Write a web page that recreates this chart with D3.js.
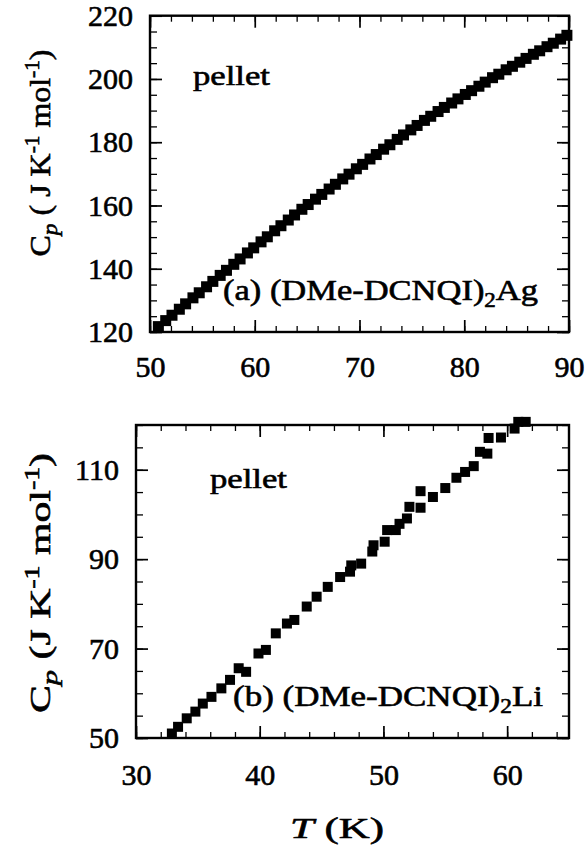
<!DOCTYPE html>
<html>
<head>
<meta charset="utf-8">
<script src="https://cdn.jsdelivr.net/npm/d3@7"></script>
<style>
  body { margin: 0; background: #fff; }
  svg { display: block; }
  text { font-family: "Liberation Serif", "Times New Roman", serif; fill: #000; stroke: #000; stroke-width: 0.6px; }
</style>
</head>
<body>
<svg id="chart" width="587" height="858"></svg>
<script>
// panel (a): (DMe-DCNQI)2Ag pellet
var agT = [50.8, 51.5, 52.1, 52.8, 53.4, 54.1, 54.7, 55.4, 56.0, 56.7, 57.3, 58.0, 58.6, 59.3, 59.9,
  60.6, 61.2, 61.9, 62.5, 63.2, 63.8, 64.5, 65.1, 65.8, 66.4, 67.1, 67.7, 68.4, 69.0, 69.7,
  70.3, 71.0, 71.6, 72.3, 72.9, 73.6, 74.2, 74.9, 75.5, 76.2, 76.8, 77.5, 78.1, 78.8, 79.4,
  80.1, 80.7, 81.4, 82.0, 82.7, 83.3, 84.0, 84.6, 85.3, 85.9, 86.6, 87.2, 87.9, 88.5, 89.2, 89.8];
var agCp = [121.7, 123.6, 125.3, 127.2, 128.9, 130.8, 132.4, 134.3, 136.0, 137.9, 139.5, 141.4, 143.1, 145.0, 146.6,
  148.5, 150.1, 152.0, 153.6, 155.4, 157.0, 158.8, 160.3, 162.0, 163.5, 165.2, 166.7, 168.4, 169.9, 171.6,
  173.0, 174.7, 176.1, 177.8, 179.2, 180.9, 182.3, 183.9, 185.3, 186.9, 188.2, 189.7, 191.0, 192.4, 193.7,
  195.1, 196.3, 197.7, 199.0, 200.4, 201.5, 202.9, 204.0, 205.3, 206.5, 207.8, 208.9, 210.2, 211.3, 212.6, 213.8];

// panel (b): (DMe-DCNQI)2Li pellet
var liT = [32.9, 33.4, 34.1, 34.8, 35.4, 36.1, 36.9, 37.6, 38.3, 38.9, 39.9, 40.5, 41.3, 42.2, 42.8,
  43.8, 44.6, 45.5, 46.5, 47.3, 47.4, 48.2, 49.1, 49.2, 50.1, 50.3, 51.0, 51.3, 51.9, 52.1,
  53.0, 53.0, 54.0, 55.0, 55.9, 56.6, 57.3, 57.8, 58.4, 58.5, 59.5, 60.6, 60.9, 61.5];
var liCp = [51.0, 52.5, 54.4, 55.9, 57.7, 59.2, 61.1, 63.0, 65.6, 64.8, 68.9, 69.7, 73.4, 75.6, 76.4,
  79.4, 81.6, 83.8, 86.0, 87.2, 88.6, 89.0, 91.7, 93.1, 93.9, 96.5, 96.5, 97.9, 99.1, 101.7,
  101.5, 105.2, 103.9, 105.9, 108.2, 109.5, 110.8, 114.0, 113.6, 117.1, 117.2, 119.2, 120.7, 120.7];

var agXTicks = [50, 60, 70, 80, 90];
var agYTicks = [120, 140, 160, 180, 200, 220];
var liXTicks = [30, 40, 50, 60];
var liYTicks = [50, 70, 90, 110];

var svg = d3.select("#chart");

function drawPanel(p) {
  var x = d3.scaleLinear().domain(p.xDomain).range([p.left, p.right]);
  var y = d3.scaleLinear().domain(p.yDomain).range([p.bottom, p.top]);
  var g = svg.append("g");

  var xMinor = d3.range(p.xDomain[0], p.xDomain[1] + 0.001, 2);
  var yMinor = d3.range(p.yDomain[0], p.yDomain[1] + 0.001, 5);

  function ticks(axis, vals, size, pos, labels, pad) {
    var a = axis.tickValues(vals).tickSizeInner(-size).tickSizeOuter(0);
    if (labels) a.tickPadding(pad); else a.tickFormat("");
    var s = g.append("g").attr("transform", pos).call(a);
    s.select(".domain").remove();
    s.selectAll("line").attr("stroke", "#000").attr("stroke-width", size > 8 ? 1.7 : 1.3);
    s.selectAll("text").attr("font-size", 30).attr("font-family", "Liberation Serif").attr("fill", "#000");
    return s;
  }

  // minor ticks on all four sides
  ticks(d3.axisBottom(x), xMinor, 6, "translate(0," + p.bottom + ")", false);
  ticks(d3.axisTop(x), xMinor, 6, "translate(0," + p.top + ")", false);
  ticks(d3.axisLeft(y), yMinor, 7, "translate(" + p.left + ",0)", false);
  ticks(d3.axisRight(y), yMinor, 7, "translate(" + p.right + ",0)", false);
  // major ticks
  ticks(d3.axisBottom(x), p.xTicks, 12, "translate(0," + p.bottom + ")", true, p.xPad);
  ticks(d3.axisTop(x), p.xTicks, 12, "translate(0," + p.top + ")", false);
  ticks(d3.axisLeft(y), p.yTicks, 12, "translate(" + p.left + ",0)", true, 17);
  ticks(d3.axisRight(y), p.yTicks, 12, "translate(" + p.right + ",0)", false);

  g.append("rect")
    .attr("x", p.left).attr("y", p.top)
    .attr("width", p.right - p.left).attr("height", p.bottom - p.top)
    .attr("fill", "none").attr("stroke", "#000").attr("stroke-width", 2.4);

  var h = p.mark / 2;
  g.selectAll("rect.pt")
    .data(d3.zip(p.xs, p.ys))
    .enter().append("rect")
    .attr("class", "pt")
    .attr("x", function(d) { return x(d[0]) - h; })
    .attr("y", function(d) { return y(d[1]) - h; })
    .attr("width", p.mark).attr("height", p.mark)
    .attr("fill", "#000");

  g.append("text")
    .attr("x", p.pellet[0]).attr("y", p.pellet[1])
    .attr("font-size", 28)
    .attr("textLength", 77).attr("lengthAdjust", "spacingAndGlyphs")
    .text("pellet");

  var lab = g.append("text")
    .attr("x", p.label[0]).attr("y", p.label[1])
    .attr("font-size", 30)
    .attr("textLength", p.label[2]).attr("lengthAdjust", "spacingAndGlyphs");
  lab.append("tspan").text(p.labelText[0]);
  lab.append("tspan").attr("font-size", 20).attr("dy", 7).text("2");
  lab.append("tspan").attr("dy", -7).text(p.labelText[1]);

  var yt = g.append("text")
    .attr("transform", "translate(50," + p.yTitle[0] + ") rotate(-90)")
    .attr("text-anchor", "middle")
    .attr("font-size", 30)
    .attr("textLength", p.yTitle[1]).attr("lengthAdjust", "spacingAndGlyphs");
  yt.append("tspan").text("C");
  yt.append("tspan").attr("font-style", "italic").attr("font-size", 22).attr("dy", 7).text("p");
  yt.append("tspan").attr("dy", -7).text(p.yTitleMid);
  yt.append("tspan").attr("font-size", 20).attr("dy", -11).text("-1");
  yt.append("tspan").attr("dy", 11).text(" mol");
  yt.append("tspan").attr("font-size", 20).attr("dy", -11).text("-1");
  yt.append("tspan").attr("dy", 11).text(")");
}

drawPanel({
  xDomain: [50, 90], yDomain: [120, 220],
  left: 150, right: 569, top: 15.7, bottom: 332,
  xTicks: agXTicks, yTicks: agYTicks, xPad: 24,
  xs: agT, ys: agCp, mark: 11,
  pellet: [193, 85],
  label: [223, 300, 315], labelText: ["(a) (DMe-DCNQI)", "Ag"],
  yTitle: [153, 207], yTitleMid: " ( J K"
});

drawPanel({
  xDomain: [30, 65], yDomain: [50, 120],
  left: 136, right: 569, top: 425, bottom: 738,
  xTicks: liXTicks, yTicks: liYTicks, xPad: 26,
  xs: liT, ys: liCp, mark: 10,
  pellet: [210, 488],
  label: [233, 706, 310], labelText: ["(b) (DMe-DCNQI)", "Li"],
  yTitle: [583, 260], yTitleMid: " (J K"
});

var xt = svg.append("text")
  .attr("x", 290).attr("y", 838)
  .attr("font-size", 30)
  .attr("textLength", 94).attr("lengthAdjust", "spacingAndGlyphs");
xt.append("tspan").attr("font-style", "italic").text("T");
xt.append("tspan").text("  (K)");
</script>
</body>
</html>
